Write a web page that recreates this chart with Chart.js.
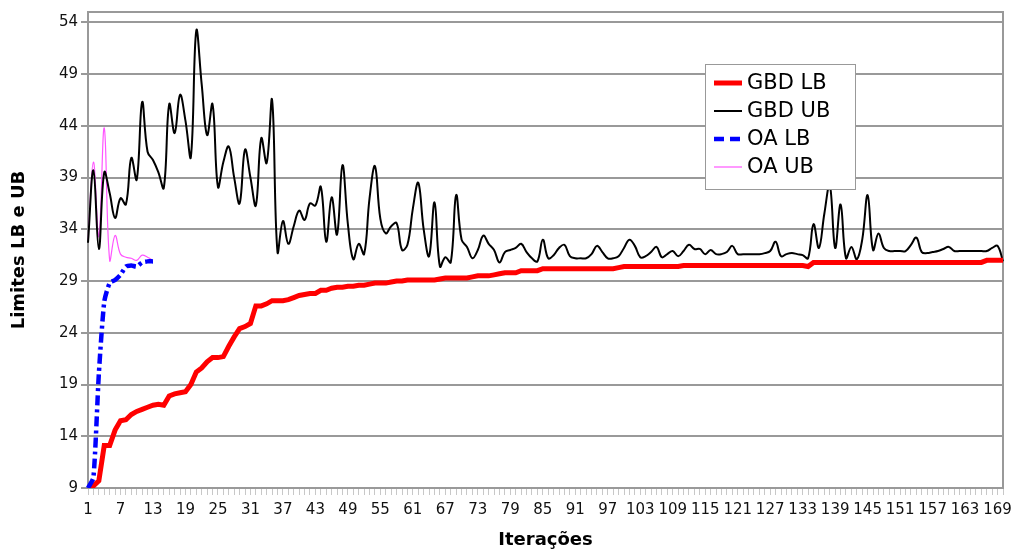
<!DOCTYPE html>
<html>
<head>
<meta charset="utf-8">
<script src="https://cdn.jsdelivr.net/npm/chart.js@4/dist/chart.umd.min.js"></script>
<style>
  html, body { margin: 0; padding: 0; background: #fff; }
  #wrap { width: 1016px; height: 554px; }
</style>
</head>
<body>
<div id="wrap"><canvas id="grafico" width="1016" height="554"></canvas></div>
<script>
// iterações 1..170
const iteracoes = Array.from({ length: 170 }, (_, i) => String(i + 1));

const gbdLB = [
  9.0, 9.2, 9.7, 13.1, 13.1, 14.6, 15.5, 15.6, 16.1, 16.4,
  16.6, 16.8, 17.0, 17.1, 17.0, 17.9, 18.1, 18.2, 18.3, 19.0,
  20.2, 20.6, 21.2, 21.6, 21.6, 21.7, 22.7, 23.6, 24.4, 24.6,
  24.9, 26.6, 26.6, 26.8, 27.1, 27.1, 27.1, 27.2, 27.4, 27.6,
  27.7, 27.8, 27.8, 28.1, 28.1, 28.3, 28.4, 28.4, 28.5, 28.5,
  28.6, 28.6, 28.7, 28.8, 28.8, 28.8, 28.9, 29.0, 29.0, 29.1,
  29.1, 29.1, 29.1, 29.1, 29.1, 29.2, 29.3, 29.3, 29.3, 29.3,
  29.3, 29.4, 29.5, 29.5, 29.5, 29.6, 29.7, 29.8, 29.8, 29.8,
  30.0, 30.0, 30.0, 30.0, 30.2, 30.2, 30.2, 30.2, 30.2, 30.2,
  30.2, 30.2, 30.2, 30.2, 30.2, 30.2, 30.2, 30.2, 30.3, 30.4,
  30.4, 30.4, 30.4, 30.4, 30.4, 30.4, 30.4, 30.4, 30.4, 30.4,
  30.5, 30.5, 30.5, 30.5, 30.5, 30.5, 30.5, 30.5, 30.5, 30.5,
  30.5, 30.5, 30.5, 30.5, 30.5, 30.5, 30.5, 30.5, 30.5, 30.5,
  30.5, 30.5, 30.5, 30.4, 30.8, 30.8, 30.8, 30.8, 30.8, 30.8,
  30.8, 30.8, 30.8, 30.8, 30.8, 30.8, 30.8, 30.8, 30.8, 30.8,
  30.8, 30.8, 30.8, 30.8, 30.8, 30.8, 30.8, 30.8, 30.8, 30.8,
  30.8, 30.8, 30.8, 30.8, 30.8, 30.8, 31.0, 31.0, 31.0, 31.0
];

const gbdUB = [
  32.7, 39.7, 32.1, 39.5, 37.5, 35.1, 37.0, 36.4, 40.9, 38.8,
  46.3, 41.5, 40.7, 39.5, 38.0, 46.1, 43.3, 47.0, 44.5, 41.0,
  53.2, 48.0, 43.1, 46.1, 38.1, 40.5, 42.0, 39.0, 36.5, 41.7,
  39.0, 36.3, 42.8, 40.4, 46.5, 31.8, 34.8, 32.6, 34.3, 35.8,
  34.9, 36.5, 36.3, 38.1, 32.8, 37.1, 33.5, 40.2, 34.5, 31.1,
  32.6, 31.6, 37.0, 40.1, 35.0, 33.6, 34.3, 34.6, 32.0, 32.5,
  36.0, 38.5, 34.0, 31.4, 36.6, 30.4, 31.3, 30.8, 37.3, 33.0,
  32.3, 31.2, 32.0, 33.4, 32.6, 32.0, 30.8, 31.8, 32.0, 32.2,
  32.6, 31.8, 31.2, 30.9, 33.0, 31.2, 31.5, 32.2, 32.5, 31.4,
  31.2, 31.2, 31.2, 31.6, 32.4, 31.8, 31.2, 31.2, 31.4, 32.2,
  33.0, 32.4, 31.3, 31.4, 31.8, 32.3, 31.3, 31.6, 31.9, 31.4,
  31.9, 32.5, 32.1, 32.1, 31.6, 32.0, 31.6, 31.6, 31.8, 32.4,
  31.6, 31.6, 31.6, 31.6, 31.6, 31.7, 31.9, 32.8, 31.4, 31.6,
  31.7, 31.6, 31.5, 31.2, 34.5, 32.2, 35.5, 38.3, 32.2, 36.4,
  31.2, 32.3, 31.1, 33.0, 37.3, 32.0, 33.6, 32.2, 31.9, 31.9,
  31.9, 31.9, 32.5, 33.2, 31.8, 31.7, 31.8, 31.9, 32.1, 32.3,
  31.9, 31.9, 31.9, 31.9, 31.9, 31.9, 31.9, 32.2, 32.4, 30.9
];

const oaLB = [9.0, 10.0, 20.0, 27.0, 28.8, 29.1, 29.6, 30.4, 30.5, 30.4, 30.8, 30.9, 30.9];
const oaUB = [33.0, 40.5, 33.3, 43.8, 31.0, 33.4, 31.6, 31.3, 31.2, 31.0, 31.5, 31.3, 31.0];

const yTicks = [9, 14, 19, 24, 29, 34, 39, 44, 49, 54];

// moldura cinza em volta da área do gráfico
const moldura = {
  id: 'moldura',
  beforeDatasetsDraw(chart) {
    const { ctx, chartArea: a } = chart;
    ctx.save();
    ctx.strokeStyle = '#999';
    ctx.lineWidth = 2;
    ctx.strokeRect(a.left, a.top, a.right - a.left, a.bottom - a.top);
    ctx.restore();
  }
};

// legenda dentro do gráfico, como no original
const legendaCaixa = {
  id: 'legendaCaixa',
  afterDraw(chart) {
    const ctx = chart.ctx;
    const x0 = 705, y0 = 64, w = 150, h = 125;
    ctx.save();
    ctx.fillStyle = '#fff';
    ctx.fillRect(x0, y0, w, h);
    ctx.strokeStyle = '#999';
    ctx.lineWidth = 1;
    ctx.strokeRect(x0 + 0.5, y0 + 0.5, w, h);
    chart.data.datasets.forEach((ds, i) => {
      const y = 83 + i * 28;
      ctx.beginPath();
      ctx.strokeStyle = ds.borderColor;
      ctx.lineWidth = ds.borderWidth;
      ctx.setLineDash(ds.legendDash || []);
      ctx.moveTo(714, y);
      ctx.lineTo(742, y);
      ctx.stroke();
      ctx.setLineDash([]);
      ctx.fillStyle = '#000';
      ctx.font = '21px "DejaVu Sans"';
      ctx.textBaseline = 'middle';
      ctx.fillText(ds.label, 747, y + 1);
    });
    ctx.restore();
  }
};

const ctx = document.getElementById('grafico').getContext('2d');
new Chart(ctx, {
  type: 'line',
  data: {
    labels: iteracoes,
    datasets: [
      {
        label: 'GBD LB',
        data: gbdLB,
        borderColor: '#ff0000',
        borderWidth: 5,
        tension: 0,
        pointRadius: 0,
        order: 2
      },
      {
        label: 'GBD UB',
        data: gbdUB,
        borderColor: '#000000',
        borderWidth: 2,
        tension: 0.4,
        pointRadius: 0,
        order: 3
      },
      {
        label: 'OA LB',
        data: oaLB,
        borderColor: '#0000ff',
        borderWidth: 4.5,
        borderDash: [10, 4, 3, 4],
        legendDash: [10, 6],
        tension: 0.2,
        pointRadius: 0,
        order: 1
      },
      {
        label: 'OA UB',
        data: oaUB,
        borderColor: '#ff55ff',
        borderWidth: 1.2,
        tension: 0.4,
        pointRadius: 0,
        order: 4
      }
    ]
  },
  options: {
    responsive: false,
    animation: false,
    devicePixelRatio: 1,
    layout: { padding: { top: 10, right: 13, left: 0, bottom: 0 } },
    plugins: {
      legend: { display: false },
      tooltip: { enabled: false }
    },
    scales: {
      x: {
        type: 'category',
        offset: false,
        afterFit: (s) => { s.height = 66; },
        grid: {
          drawOnChartArea: false,
          tickLength: 7,
          tickColor: '#c8c8c8',
          lineWidth: 1
        },
        border: { color: '#999', width: 2 },
        ticks: {
          autoSkip: false,
          maxRotation: 0,
          minRotation: 0,
          padding: 6,
          color: '#111',
          font: { family: 'DejaVu Sans', size: 15 },
          callback: (v, i) => (i % 6 === 0 ? iteracoes[i] : '')
        },
        title: {
          display: true,
          text: 'Iterações',
          color: '#000',
          font: { family: 'DejaVu Sans', size: 18, weight: 'bold' },
          padding: { top: 0, bottom: 3 }
        }
      },
      y: {
        min: 9,
        max: 55,
        afterFit: (s) => { s.width = 88; },
        afterBuildTicks: (s) => { s.ticks = yTicks.map(v => ({ value: v })); },
        grid: {
          color: '#999',
          lineWidth: 2,
          tickLength: 7
        },
        border: { color: '#999', width: 2 },
        ticks: {
          padding: 3,
          color: '#111',
          font: { family: 'DejaVu Sans', size: 15 }
        },
        title: {
          display: true,
          text: 'Limites LB e UB',
          color: '#000',
          font: { family: 'DejaVu Sans', size: 18, weight: 'bold' },
          padding: { top: 9, bottom: 0 }
        }
      }
    }
  },
  plugins: [moldura, legendaCaixa]
});
</script>
</body>
</html>
